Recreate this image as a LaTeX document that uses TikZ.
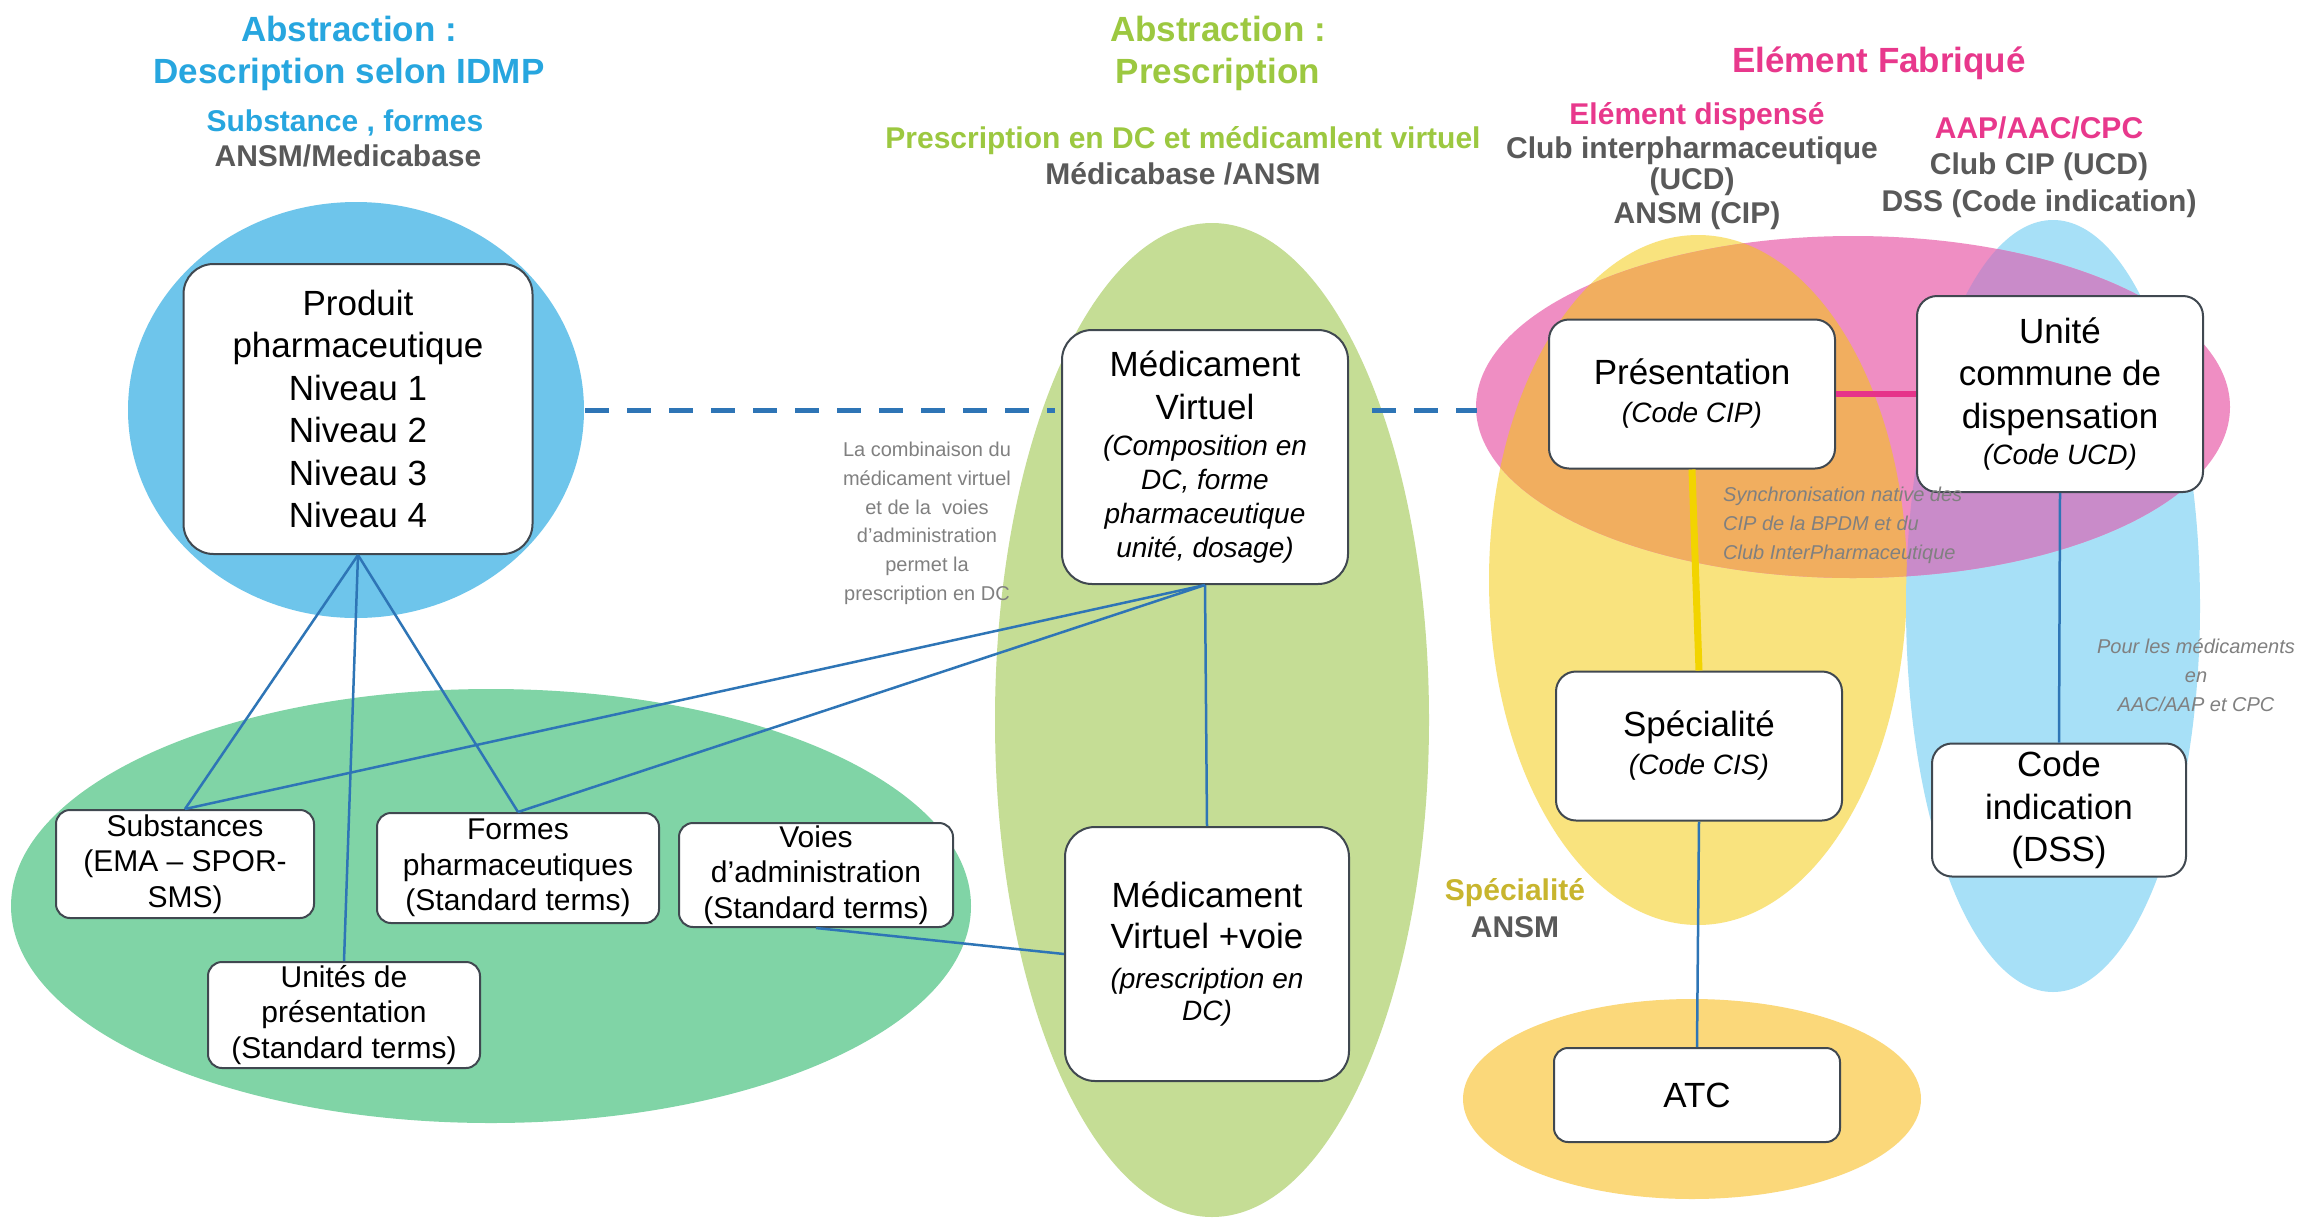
\documentclass[tikz,border=0pt]{standalone}
\usepackage{fontspec}
\setmainfont{Liberation Sans}
\usetikzlibrary{calc}
\definecolor{cLBlue}{HTML}{6EC5EB}
\definecolor{cGreen}{HTML}{80D4A6}
\definecolor{cOlive}{HTML}{C5DD95}
\definecolor{cYellow}{HTML}{F9E37E}
\definecolor{cPink}{HTML}{EF8EC3}
\definecolor{cOrange}{HTML}{F1AE5F}
\definecolor{cPurple}{HTML}{C98BC9}
\definecolor{cRBlue}{HTML}{A7E0F7}
\definecolor{cGold}{HTML}{FBD87A}
\definecolor{cBorder}{HTML}{404850}
\definecolor{cLine}{HTML}{2E75B6}
\definecolor{cTBlue}{HTML}{27A6DF}
\definecolor{cTGreen}{HTML}{9CC840}
\definecolor{cTPink}{HTML}{E8388C}
\definecolor{cTGold}{HTML}{C8B52E}
\definecolor{cGray}{HTML}{595959}
\definecolor{cNote}{HTML}{808080}
\definecolor{cPinkLine}{HTML}{E6338A}
\definecolor{cYLine}{HTML}{F2D400}
\newcommand{\myBig}{\fontsize{35}{42.5}\selectfont}
\newcommand{\mySmall}{\fontsize{30}{35.5}\selectfont}
\newcommand{\myIt}{\fontsize{28}{34}\selectfont\itshape}
\newcommand{\myTitle}{\fontsize{35}{42}\selectfont\bfseries}
\newcommand{\mySub}{\fontsize{30}{36}\selectfont\bfseries}
\newcommand{\myNote}{\fontsize{20}{28.7}\selectfont}
\tikzset{
  box/.style={draw=cBorder, line width=2pt, fill=white, align=center, inner sep=0pt, text=black},
  bigbox/.style={box, font=\myBig, rounded corners=30pt},
  midbox/.style={box, font=\myBig, rounded corners=20pt},
  smallbox/.style={box, font=\mySmall, rounded corners=14pt},
  conn/.style={draw=cLine, line width=2.5pt},
  dline/.style={draw=cLine, line width=5pt, dash pattern=on 24pt off 18pt},
  yline/.style={draw=cYLine, line width=7pt},
  pline/.style={draw=cPinkLine, line width=6pt},
  ttl/.style={anchor=base, font=\myTitle, inner sep=0pt},
  sub/.style={anchor=base, font=\mySub, inner sep=0pt},
  note/.style={font=\myNote, text=cNote, inner sep=0pt},
}
\begin{document}
\begin{tikzpicture}[x=1pt,y=-1pt]
\fill[white] (0,0) rectangle (2300,1224);
\useasboundingbox (0,0) rectangle (2300,1224);

% background ellipses
\fill[cLBlue] (356,410) ellipse [x radius=228pt, y radius=208pt];
\fill[cGreen] (491,906) ellipse [x radius=480pt, y radius=217pt];
\fill[cOlive] (1212,720) ellipse [x radius=217pt, y radius=497pt];
\fill[cYellow] (1698,580) ellipse [x radius=209pt, y radius=345pt];
\fill[cRBlue] (2053,606) ellipse [x radius=147pt, y radius=386pt];
\fill[cPink] (1853,407) ellipse [x radius=377pt, y radius=171pt];
\begin{scope}
  \clip (1853,407) ellipse [x radius=377pt, y radius=171pt];
  \fill[cOrange] (1698,580) ellipse [x radius=209pt, y radius=345pt];
  \fill[cPurple] (2053,606) ellipse [x radius=147pt, y radius=386pt];
\end{scope}
\fill[cGold] (1692,1099) ellipse [x radius=229pt, y radius=100pt];

% headings
\node[ttl, text=cTBlue] (h1a) at (349,41) {Abstraction :};
\node[ttl, text=cTBlue] (h1b) at (349,83) {Description selon IDMP};
\node[sub, text=cTBlue] (h1c) at (345,131) {Substance , formes};
\node[sub, text=cGray] (h1d) at (348,166) {ANSM/Medicabase};

\node[ttl, text=cTGreen] (h2a) at (1218,41) {Abstraction :};
\node[ttl, text=cTGreen] (h2b) at (1218,83) {Prescription};
\node[sub, text=cTGreen] (h2c) at (1183,148) {Prescription en DC et médicamlent virtuel};
\node[sub, text=cGray] (h2d) at (1183,184) {Médicabase /ANSM};

\node[ttl, text=cTPink] (h3a) at (1879,72) {Elément Fabriqué};
\node[sub, text=cTPink] (h3b) at (1697,124) {Elément dispensé};
\node[sub, text=cGray] (h3c) at (1692,158) {Club interpharmaceutique};
\node[sub, text=cGray] (h3d) at (1692,189) {(UCD)};
\node[sub, text=cGray] (h3e) at (1697,223) {ANSM (CIP)};
\node[sub, text=cTPink] (h4a) at (2039,138) {AAP/AAC/CPC};
\node[sub, text=cGray] (h4b) at (2039,174) {Club CIP (UCD)};
\node[sub, text=cGray] (h4c) at (2039,211) {DSS (Code indication)};

\node[sub, text=cTGold] (h5a) at (1515,900) {Spécialité};
\node[sub, text=cGray] (h5b) at (1515,937) {ANSM};

% boxes
\node[bigbox, minimum width=349pt, minimum height=290pt] (prod) at (358,409)
  {Produit\\pharmaceutique\\Niveau 1\\Niveau 2\\Niveau 3\\Niveau 4};
\node[bigbox, minimum width=286pt, minimum height=254pt] (mv) at (1205,457)
  {Médicament\\Virtuel\\[-6pt]{\myIt (Composition en}\\[-8.8pt]{\myIt DC, forme}\\[-8.8pt]{\myIt pharmaceutique}\\[-8.8pt]{\myIt unité, dosage)}};
\node[bigbox, minimum width=284pt, minimum height=254pt] (mvv) at (1207,954)
  {Médicament\\[-1.5pt]Virtuel +voie\\[-3pt]{\myIt (prescription en}\\[-10pt]{\myIt DC)}};
\node[midbox, minimum width=286pt, minimum height=149pt] (pres) at (1692,394)
  {Présentation\\[-4.5pt]{\myIt (Code CIP)}};
\node[midbox, minimum width=286pt, minimum height=196pt] (ucd) at (2060,394)
  {Unité\\commune de\\dispensation\\[-6pt]{\myIt (Code UCD)}};
\node[midbox, minimum width=286pt, minimum height=149pt] (spec) at (1699,746)
  {Spécialité\\[-4.5pt]{\myIt (Code CIS)}};
\node[midbox, rounded corners=14pt, minimum width=286pt, minimum height=94pt] (atc) at (1697,1095) {ATC};
\node[midbox, minimum width=254pt, minimum height=133pt] (codeind) at (2059,810)
  {Code\\indication\\(DSS)};

\node[smallbox, minimum width=258pt, minimum height=108pt] (subst) at (185,864)
  {Substances\\(EMA – SPOR-\\SMS)};
\node[smallbox, minimum width=282pt, minimum height=110pt] (formes) at (518,868)
  {Formes\\pharmaceutiques\\(Standard terms)};
\node[smallbox, minimum width=274pt, minimum height=104pt] (voies) at (816,875)
  {Voies\\d’administration\\(Standard terms)};
\node[smallbox, minimum width=272pt, minimum height=106pt] (unites) at (344,1015)
  {Unités de\\présentation\\(Standard terms)};

% notes
\node[note, align=center, anchor=north] (n1) at (927,442)
  {La combinaison du\\médicament virtuel\\et de la\ \ voies\\d’administration\\permet la\\prescription en DC};
\node[note, align=left, anchor=north west, font=\myNote\itshape] (n2) at (1723,487)
  {Synchronisation native des\\CIP de la BPDM et du\\Club InterPharmaceutique};
\node[note, align=center, anchor=north, font=\myNote\itshape] (n3) at (2196,639)
  {Pour les médicaments\\en\\AAC/AAP et CPC};

% connectors
\draw[conn] (prod.south) -- (subst.north);
\draw[conn] (prod.south) -- (unites.north);
\draw[conn] (prod.south) -- (formes.north);
\draw[conn] (mv.south) -- (subst.north);
\draw[conn] (mv.south) -- (formes.north);
\draw[conn] (mv.south) -- (mvv.north);
\draw[conn] (voies.south) -- (mvv.west);
\draw[conn] (spec.south) -- (atc.north);
\draw[conn] (ucd.south) -- (codeind.north);
\draw[yline] (pres.south) -- (spec.north);
\draw[pline] (pres.east) -- (ucd.west);

\coordinate (dA) at (585,410);
\coordinate (dB) at (1477,410);
\draw[dline] (dA) -- ($(dA -| mv.west)+(-6,0)$);
\draw[dline] ($(dB -| mv.east)+(23,0)$) -- (dB);
\end{tikzpicture}
\end{document}
